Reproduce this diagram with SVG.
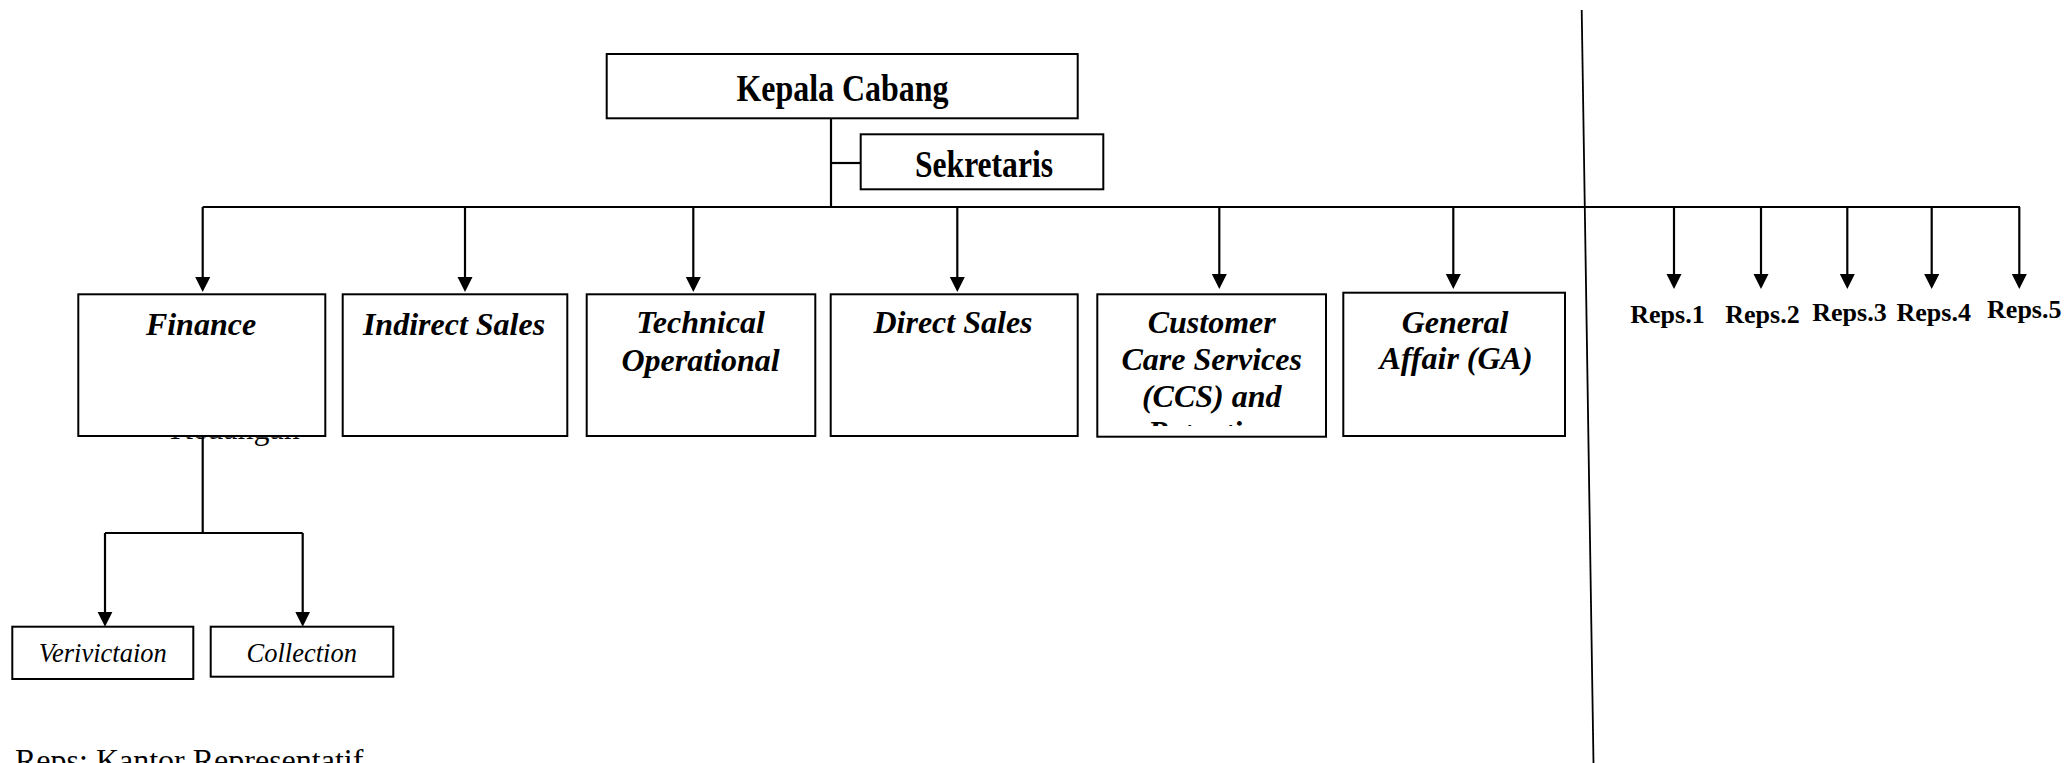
<svg xmlns="http://www.w3.org/2000/svg" width="2067" height="763" viewBox="0 0 2067 763">
<style>
.box{fill:#fff;stroke:#000;stroke-width:2}
.ln{fill:none;stroke:#000;stroke-width:2.2}
.arr{fill:none;stroke:#000;stroke-width:2.2;marker-end:url(#ah)}
.hd{font-family:"Liberation Serif","Times New Roman",serif;font-weight:bold;font-size:37px;text-anchor:middle;fill:#000}
.bi{font-family:"Liberation Serif","Times New Roman",serif;font-weight:bold;font-style:italic;font-size:32px;text-anchor:middle;fill:#000}
.rp{font-family:"Liberation Serif","Times New Roman",serif;font-weight:bold;font-size:26px;text-anchor:middle;fill:#000}
.it{font-family:"Liberation Serif","Times New Roman",serif;font-style:italic;font-size:26.5px;text-anchor:middle;fill:#000}
.rg{font-family:"Liberation Serif","Times New Roman",serif;font-size:32px;fill:#000}
</style>
<defs>
<marker id="ah" markerUnits="userSpaceOnUse" markerWidth="16" markerHeight="16" refX="5" refY="7.5" orient="auto">
<path d="M0,0 L15,7.5 L0,15 z" fill="#000"/>
</marker>
<clipPath id="finClip"><rect x="79" y="437.2" width="246" height="14"/></clipPath>
<clipPath id="ccsClip"><rect x="1098" y="295" width="227" height="131"/></clipPath>
</defs>
<rect width="2067" height="763" fill="#fff"/>

<g id="connectors">
<path class="ln" d="M831,118 V207"/>
<path class="ln" d="M831,163 H861"/>
<path class="ln" d="M202.7,207 H2020"/>
<path class="arr" d="M202.7,207 V282"/>
<path class="arr" d="M465,207 V282"/>
<path class="arr" d="M693.3,207 V282"/>
<path class="arr" d="M957.3,207 V282"/>
<path class="arr" d="M1219.3,207 V279"/>
<path class="arr" d="M1453.3,207 V279"/>
<path class="arr" d="M1674,207 V279"/>
<path class="arr" d="M1761,207 V279"/>
<path class="arr" d="M1847.3,207 V279"/>
<path class="arr" d="M1931.7,207 V279"/>
<path class="arr" d="M2019.3,207 V279"/>
<path class="ln" d="M202.7,436 V533"/>
<path class="ln" d="M105,533 H302.7"/>
<path class="arr" d="M105,533 V616.7"/>
<path class="arr" d="M302.7,533 V616.7"/>
<path d="M1581.7,10 L1593.5,763" fill="none" stroke="#000" stroke-width="1.8"/>
</g>

<g id="kepala-cabang">
<rect class="box" x="606.7" y="54" width="471" height="64.3"/>
<text class="hd" x="842.5" y="101" font-size="38" textLength="212" lengthAdjust="spacingAndGlyphs">Kepala Cabang</text>
</g>

<g id="sekretaris">
<rect class="box" x="860.7" y="134.3" width="242.6" height="55"/>
<text class="hd" x="984" y="177" textLength="138" lengthAdjust="spacingAndGlyphs">Sekretaris</text>
</g>

<g id="finance">
<text class="rg" x="170" y="438.5" font-size="36" clip-path="url(#finClip)">Keuangan</text>
<rect class="box" x="78.3" y="294.3" width="247" height="141.7"/>
<text class="bi" x="201" y="335">Finance</text>
</g>

<g id="indirect-sales">
<rect class="box" x="342.7" y="294.3" width="224.6" height="141.7"/>
<text class="bi" x="454" y="335">Indirect Sales</text>
</g>

<g id="technical-operational">
<rect class="box" x="586.7" y="294.3" width="228.6" height="141.7"/>
<text class="bi" x="700.5" y="333.3">Technical</text>
<text class="bi" x="700.5" y="370.7">Operational</text>
</g>

<g id="direct-sales">
<rect class="box" x="830.7" y="294.3" width="247" height="141.7"/>
<text class="bi" x="953" y="333.3">Direct Sales</text>
</g>

<g id="ccs">
<rect class="box" x="1097.3" y="294.3" width="228.7" height="142.4"/>
<g clip-path="url(#ccsClip)">
<text class="bi" x="1211.7" y="333.3">Customer</text>
<text class="bi" x="1211.7" y="370">Care Services</text>
<text class="bi" x="1211.7" y="406.7">(CCS) and</text>
<text class="bi" x="1211.7" y="443.4">Retention</text>
</g>
</g>

<g id="general-affair">
<rect class="box" x="1343.3" y="292.7" width="221.7" height="143.3"/>
<text class="bi" x="1455" y="333">General</text>
<text class="bi" x="1456" y="369.3">Affair (GA)</text>
</g>

<g id="reps">
<text class="rp" x="1667.5" y="323">Reps.1</text>
<text class="rp" x="1762.5" y="323">Reps.2</text>
<text class="rp" x="1849.5" y="321">Reps.3</text>
<text class="rp" x="1933.7" y="321">Reps.4</text>
<text class="rp" x="2024.3" y="318.3">Reps.5</text>
</g>

<g id="verivictaion">
<rect class="box" x="12.3" y="626.7" width="181" height="52.3"/>
<text class="it" x="102.8" y="661.7">Verivictaion</text>
</g>

<g id="collection">
<rect class="box" x="210.7" y="626.7" width="182.6" height="50"/>
<text class="it" x="301.7" y="661.7">Collection</text>
</g>

<g id="legend">
<text class="rg" x="15" y="771">Reps: Kantor Representatif</text>
</g>
</svg>
